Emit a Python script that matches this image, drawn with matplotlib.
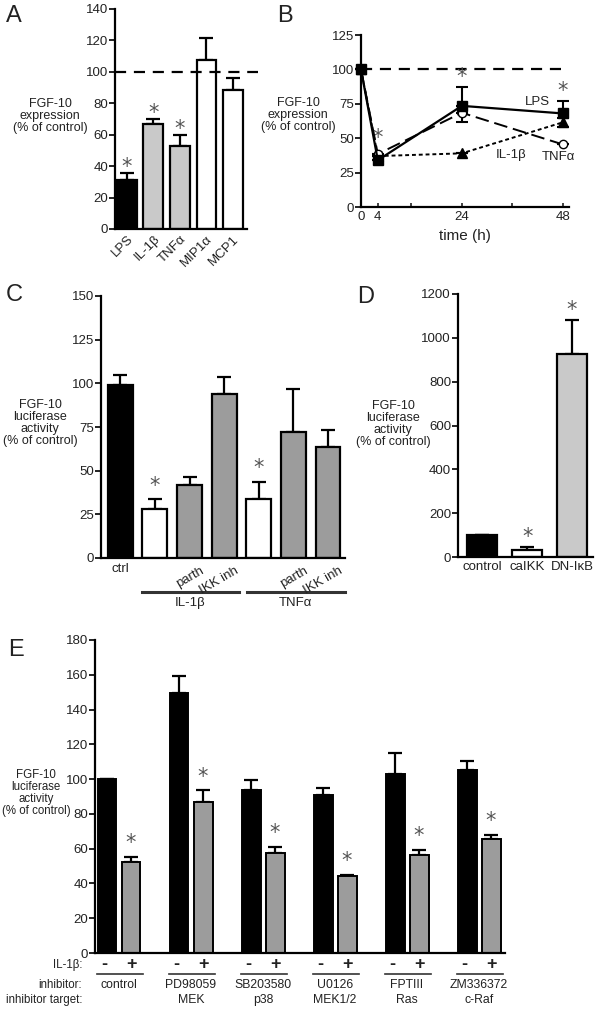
import matplotlib
matplotlib.use("Agg")
import matplotlib.pyplot as plt
import numpy as np

plt.rcParams['font.family'] = ['Liberation Sans', 'DejaVu Sans']
plt.rcParams['text.color'] = '#222222'
plt.rcParams['axes.labelcolor'] = '#222222'
plt.rcParams['xtick.color'] = '#222222'
plt.rcParams['ytick.color'] = '#222222'

# panel A
A_labels = ['LPS', 'IL-1β', 'TNFα', 'MIP1α', 'MCP1']
A_vals = [31, 66.5, 52.5, 107.5, 88.5]
A_err = [4.5, 3.5, 7, 14, 7.5]
A_star = [1, 1, 1, 0, 0]

# panel B
B_time = [0, 4, 24, 48]
B_lps = [100, 34, 73.5, 68]
B_lps_err = [0, 0, 14, 9]
B_tnf = [100, 38.5, 68.5, 45.5]
B_tnf_err = [0, 0, 7, 0]
B_il1 = [100, 37, 39, 61.5]
B_il1_err = [0, 0, 0, 3]
B_star_t = [4, 24, 48]
B_star_y = [50, 94.5, 84.5]

# panel C
C_labels = ['ctrl', '', 'parth', 'IKK inh', '', 'parth', 'IKK inh']
C_vals = [99, 28, 42, 94, 34, 72, 63.5]
C_err = [6, 5.5, 4.5, 9.5, 9.5, 25, 10]
C_star = [0, 1, 0, 0, 1, 0, 0]
C_groups = ['IL-1β', 'TNFα']

# panel D
D_labels = ['control', 'caIKK', 'DN-IκB']
D_vals = [100, 34, 925]
D_err = [0, 11, 155]
D_star = [0, 1, 1]

# panel E
E_inhib = ['control', 'PD98059', 'SB203580', 'U0126', 'FPTIII', 'ZM336372']
E_target = ['', 'MEK', 'p38', 'MEK1/2', 'Ras', 'c-Raf']
E_minus = [100, 149.5, 93.5, 91, 103, 105.5]
E_minus_err = [0, 10, 6, 4, 12, 5]
E_plus = [52.5, 87, 57.5, 44, 56.5, 65.5]
E_plus_err = [2.5, 6.5, 3.5, 0.8, 3, 2.5]

W, H = 600, 1014
fig = plt.figure(figsize=(6, 10.14), dpi=100)


def box(l, t, r, b):
    return [l / W, 1 - b / H, (r - l) / W, (b - t) / H]


def fx(x, y):
    return x / W, 1 - y / H


def style(ax):
    for s in ['top', 'right']:
        ax.spines[s].set_visible(False)
    for s in ['left', 'bottom']:
        ax.spines[s].set_linewidth(1.6)
    ax.tick_params(axis='y', direction='out', length=4, width=1.4, labelsize=9.5, pad=1)


def errs(ax, x, y, e, down=False):
    e = np.array(e)
    z = np.zeros_like(e)
    yerr = [e, z] if down else [z, e]
    ax.errorbar(x, y, yerr=yerr, fmt='none', ecolor='black', elinewidth=1.6,
                capsize=5, capthick=1.6, zorder=1)


def star(ax, x, y, size=15):
    ax.text(x, y, '*', ha='center', va='center', fontsize=size, color='#555555',
            family='DejaVu Sans', clip_on=False)


def ylab(x, y, s, size=9):
    fig.text(*fx(x, y), s, ha='center', va='center', fontsize=size, linespacing=1.0)


def letter(x, y, s):
    fig.text(*fx(x, y), s, ha='left', va='center', fontsize=17)


# ---- A
axA = fig.add_axes(box(115, 9, 247, 229))
style(axA)
xa = np.arange(len(A_vals))
cA = ['black', '#c9c9c9', '#c9c9c9', 'white', 'white']
errs(axA, xa, A_vals, A_err)
axA.bar(xa, A_vals, width=0.75, color=cA, edgecolor='black', linewidth=1.6, zorder=2)
for i in range(len(A_vals)):
    if A_star[i]:
        star(axA, i, A_vals[i] + A_err[i] + 4)
axA.plot([-0.45, 4.95], [100, 100], ls=(0, (5, 3.5)), color='black', lw=1.6, clip_on=False, zorder=3)
axA.set_xlim(-0.45, 4.53)
axA.set_ylim(0, 140)
axA.set_yticks(range(0, 141, 20))
axA.set_xticks(xa)
axA.set_xticklabels(A_labels, rotation=45, ha='right', rotation_mode='anchor', fontsize=9.5)
axA.tick_params(axis='x', length=0, pad=3)
ylab(50, 116, 'FGF-10\nexpression\n(% of control)')
letter(6, 16, 'A')

# ---- B
axB = fig.add_axes(box(361, 35, 569, 207))
style(axB)
axB.plot([0, 48], [100, 100], ls=(0, (5, 3.5)), color='black', lw=1.6, zorder=1)
axB.errorbar(B_time, B_lps, yerr=[np.zeros(4), B_lps_err], color='black', lw=1.6, marker='s',
             ms=7, mfc='black', mec='black', capsize=4, capthick=1.5, elinewidth=1.5, zorder=5, clip_on=False)
axB.errorbar(B_time, B_tnf, yerr=[B_tnf_err, np.zeros(4)], color='black', lw=1.4, ls=(0, (7, 3)),
             marker='o', ms=6, mfc='white', mec='black', capsize=4, capthick=1.5, elinewidth=1.5, zorder=4, clip_on=False)
axB.errorbar(B_time, B_il1, yerr=[B_il1_err, B_il1_err], color='black', lw=1.4, ls=(0, (2, 1.5)),
             marker='^', ms=7, mfc='black', mec='black', capsize=4, capthick=1.5, elinewidth=1.5, zorder=3, clip_on=False)
for t, y in zip(B_star_t, B_star_y):
    star(axB, t, y)
axB.text(42, 76, 'LPS', ha='center', va='center', fontsize=9.5)
axB.text(32, 38, 'IL-1β', ha='left', va='center', fontsize=9.5)
axB.text(47, 36, 'TNFα', ha='center', va='center', fontsize=9.5)
axB.set_xlim(0, 49.5)
axB.set_ylim(0, 125)
axB.set_yticks(range(0, 126, 25))
axB.set_xticks([0, 4, 12, 24, 36, 48])
axB.set_xticklabels(['0', '4', '', '24', '', '48'], fontsize=9.5)
axB.tick_params(axis='x', direction='in', length=3, width=1.2, pad=3)
axB.set_xlabel('time (h)', fontsize=11, labelpad=4)
ylab(298, 115, 'FGF-10\nexpression\n(% of control)')
letter(277, 16, 'B')

# ---- C
axC = fig.add_axes(box(101, 296, 345, 558))
style(axC)
xc = np.arange(len(C_vals))
cC = ['black', 'white', '#9c9c9c', '#9c9c9c', 'white', '#9c9c9c', '#9c9c9c']
errs(axC, xc, C_vals, C_err)
axC.bar(xc, C_vals, width=0.72, color=cC, edgecolor='black', linewidth=1.6, zorder=2)
for i in range(len(C_vals)):
    if C_star[i]:
        star(axC, i, C_vals[i] + C_err[i] + 8)
axC.set_xlim(-0.556, 6.49)
axC.set_ylim(0, 150)
axC.set_yticks(range(0, 151, 25))
axC.set_xticks([])
tr = axC.get_xaxis_transform()
axC.text(0, -0.02, C_labels[0], transform=tr, ha='center', va='top', fontsize=9.5)
for i in range(1, len(C_vals)):
    if C_labels[i]:
        axC.text(i + 0.3, -0.025, C_labels[i], transform=tr, ha='right', va='top',
                 rotation=30, rotation_mode='anchor', fontsize=9.5)
for g, name in enumerate(C_groups):
    x0, x1 = 0.63 + 3 * g + 0.03 * g, 3.43 + 3 * g + 0.05 * g
    axC.plot([x0, x1], [-0.131, -0.131], transform=tr, color='#333333', lw=2.2, clip_on=False)
    axC.text((x0 + x1) / 2, -0.17, name, transform=tr, ha='center', va='center', fontsize=9.5)
ylab(40, 423, 'FGF-10\nluciferase\nactivity\n(% of control)')
letter(6, 295, 'C')

# ---- D
axD = fig.add_axes(box(458, 294, 593, 557))
style(axD)
xd = np.arange(len(D_vals))
cD = ['black', 'white', '#c9c9c9']
errs(axD, xd, D_vals, D_err)
axD.bar(xd, D_vals, width=0.67, color=cD, edgecolor='black', linewidth=1.6, zorder=2)
for i in range(len(D_vals)):
    if D_star[i]:
        star(axD, i, D_vals[i] + D_err[i] + 45)
axD.set_xlim(-0.547, 2.47)
axD.set_ylim(0, 1200)
axD.set_yticks(range(0, 1201, 200))
axD.set_xticks(xd)
axD.set_xticklabels(D_labels, fontsize=9.5)
axD.tick_params(axis='x', length=0, pad=3)
ylab(393, 424, 'FGF-10\nluciferase\nactivity\n(% of control)')
letter(357, 297, 'D')

# ---- E
axE = fig.add_axes(box(95, 640, 505, 953))
style(axE)
g = np.arange(len(E_inhib))
xm = 3 * g
xp = 3 * g + 1
errs(axE, xm, E_minus, E_minus_err)
errs(axE, xp, E_plus, E_plus_err)
axE.bar(xm, E_minus, width=0.79, color='black', edgecolor='black', linewidth=1.4, zorder=2)
axE.bar(xp, E_plus, width=0.79, color='#9c9c9c', edgecolor='black', linewidth=1.4, zorder=2)
for i in g:
    star(axE, xp[i], E_plus[i] + E_plus_err[i] + 8)
axE.set_xlim(-0.5, 16.58)
axE.set_ylim(0, 180)
axE.set_yticks(range(0, 181, 20))
axE.set_xticks([])
te = axE.get_xaxis_transform()
rows = [(-0.038, 'IL-1β:'), (-0.102, 'inhibitor:'), (-0.150, 'inhibitor target:')]
for y, s in rows:
    axE.text(-1.04, y, s, transform=te, ha='right', va='center', fontsize=8.3)
for i in g:
    axE.text(xm[i] - 0.1, -0.036, '-', transform=te, ha='center', va='center', fontsize=13, fontweight='bold')
    axE.text(xp[i], -0.036, '+', transform=te, ha='center', va='center', fontsize=13, fontweight='bold')
    axE.plot([3 * i - 0.42, 3 * i + 1.5], [-0.067, -0.067], transform=te, color='#333333', lw=1.2, clip_on=False)
    axE.text(3 * i + 0.5, -0.102, E_inhib[i], transform=te, ha='center', va='center', fontsize=8.8)
    axE.text(3 * i + 0.5, -0.150, E_target[i], transform=te, ha='center', va='center', fontsize=8.8)
ylab(36, 793, 'FGF-10\nluciferase\nactivity\n(% of control)', size=8.3)
letter(8, 650, 'E')

fig.savefig('out.png', dpi=100)
